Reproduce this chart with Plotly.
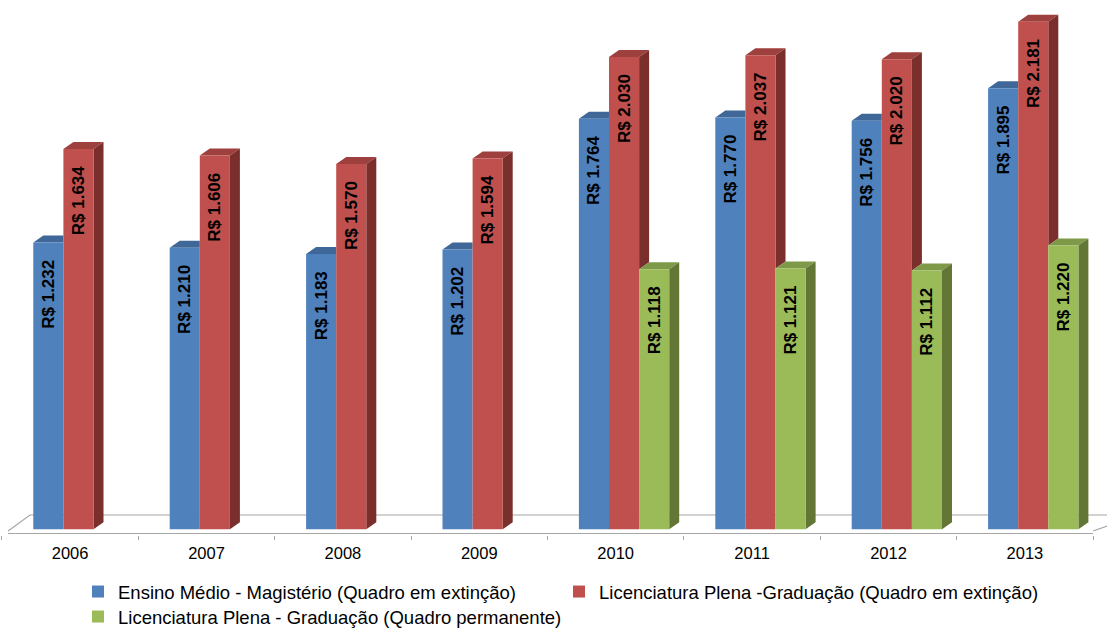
import plotly.graph_objects as go

# ---------------- data ----------------
years = ["2006", "2007", "2008", "2009", "2010", "2011", "2012", "2013"]
ensino_medio = [1232, 1210, 1183, 1202, 1764, 1770, 1756, 1895]
lic_extincao = [1634, 1606, 1570, 1594, 2030, 2037, 2020, 2181]
lic_permanente = [None, None, None, None, 1118, 1121, 1112, 1220]
series_names = [
    "Ensino Médio - Magistério (Quadro em extinção)",
    "Licenciatura Plena -Graduação (Quadro em extinção)",
    "Licenciatura Plena - Graduação (Quadro permanente)",
]

# ---------------- styling / geometry ----------------
FRONT = ["#4F81BD", "#C0504D", "#9BBB59"]
TOP = ["#3F6898", "#9E403E", "#7E9A48"]
SIDE = ["#30507A", "#7A2F2D", "#637636"]
FLOOR = "#A6A6A6"
FONT = "Liberation Sans, Arial, sans-serif"

W, H = 1107, 629
PLOT_BOTTOM = 535.0
CAT_PX = 136.4
X0_PX = 1.9          # pixel of category boundary -0.5
Y0_PX = 529.3        # pixel of value 0
PX_PER_UNIT = 0.2327

x_range = [-0.5 - X0_PX / CAT_PX, -0.5 + (W - X0_PX) / CAT_PX]
y_range = [-(PLOT_BOTTOM - Y0_PX) / PX_PER_UNIT, Y0_PX / PX_PER_UNIT]


def px_x(px):
    return -0.5 + (px - X0_PX) / CAT_PX


def px_y(py):
    return (Y0_PX - py) / PX_PER_UNIT


BAR_W = 30.1 / CAT_PX
FIRST_OFF = (33.3 - (X0_PX + 0.5 * CAT_PX)) / CAT_PX
DX = 10.0 / CAT_PX
DY = 7.0 / PX_PER_UNIT

series = [ensino_medio, lic_extincao, lic_permanente]


def fmt(v):
    return "R$ " + f"{v:,}".replace(",", ".") + "\u00a0\u00a0\u00a0"


fig = go.Figure()

# ---------------- floor ----------------
fx = [px_x(8), px_x(1093), None, px_x(8), px_x(30), x_range[1] + 1, None,
      px_x(1093), px_x(1093 + 17 * 3)]
fy = [px_y(533.5), px_y(533.5), None, px_y(531), px_y(515), px_y(515), None,
      px_y(531), px_y(531 - 6 * 3)]
fig.add_trace(go.Scatter(x=fx, y=fy, mode="lines", line=dict(color=FLOOR, width=1.2),
                         hoverinfo="skip", showlegend=False, cliponaxis=True))

# ---------------- 3D faces (tops and sides) ----------------
tops = {0: ([], []), 1: ([], []), 2: ([], [])}
sides = {0: ([], []), 1: ([], []), 2: ([], [])}
for i in range(len(years)):
    for k, vals in enumerate(series):
        v = vals[i]
        if v is None:
            continue
        nv = series[k + 1][i] if k + 1 < len(series) else None
        x1 = i + FIRST_OFF + k * BAR_W
        x2 = x1 + BAR_W
        tx, ty = tops[k]
        sx, sy = sides[k]
        if nv is not None and nv >= v:
            tx += [x1, x2, x2, x1 + DX, x1, None]
            ty += [v, v, v + DY, v + DY, v, None]
        else:
            tx += [x1, x2, x2 + DX, x1 + DX, x1, None]
            ty += [v, v, v + DY, v + DY, v, None]
        if nv is None:
            sx += [x2, x2, x2 + DX, x2 + DX, x2, None]
            sy += [0, v, v + DY, DY, 0, None]
        elif nv < v:
            sx += [x2, x2 + DX, x2 + DX, x2, x2, None]
            sy += [v, v + DY, nv + DY, nv, v, None]

for k in range(3):
    for coll, cols in ((tops, TOP), (sides, SIDE)):
        xs, ys = coll[k]
        if xs:
            fig.add_trace(go.Scatter(x=xs, y=ys, mode="lines", fill="toself",
                                     fillcolor=cols[k], line=dict(width=0, color=cols[k]),
                                     hoverinfo="skip", showlegend=False))

# ---------------- front faces (bars) ----------------
legend_ids = ["legend", "legend3", "legend2"]
for k, vals in enumerate(series):
    xs = [i for i, v in enumerate(vals) if v is not None]
    ys = [v for v in vals if v is not None]
    fig.add_trace(go.Bar(
        x=xs, y=ys, xaxis="x2", yaxis="y2",
        name=series_names[k],
        offset=FIRST_OFF + k * BAR_W, width=BAR_W,
        marker=dict(color=FRONT[k], line=dict(width=0)),
        text=[fmt(v) for v in ys], textposition="inside", insidetextanchor="end",
        textangle=-90, constraintext="none",
        textfont=dict(family=FONT, size=17, color="black", weight="bold"),
        legend=legend_ids[k],
    ))

legend_font = dict(family=FONT, size=18.5, color="black")
fig.update_layout(
    width=W, height=H,
    margin=dict(l=0, r=0, t=0, b=H - PLOT_BOTTOM, autoexpand=False),
    paper_bgcolor="white", plot_bgcolor="white",
    barmode="overlay",
    showlegend=True,
    xaxis=dict(range=x_range, showgrid=False, zeroline=False, showline=False,
               tickmode="array", tickvals=[i - 0.5 for i in range(len(years) + 1)],
               ticktext=[""] * (len(years) + 1), ticks="outside", ticklen=4,
               tickcolor=FLOOR, tickwidth=1, showticklabels=False),
    yaxis=dict(range=y_range, visible=False),
    xaxis2=dict(range=x_range, overlaying="x", side="bottom", showgrid=False,
                zeroline=False, showline=False, tickmode="array",
                tickvals=list(range(len(years))), ticktext=years, ticks="",
                ticklabelstandoff=6,
                tickfont=dict(family=FONT, size=16.5, color="black")),
    yaxis2=dict(range=y_range, overlaying="y", visible=False),
    legend=dict(orientation="h", x=78 / W, xanchor="left", y=(PLOT_BOTTOM - 592) / PLOT_BOTTOM,
                yanchor="middle", font=legend_font, bgcolor="rgba(0,0,0,0)"),
    legend3=dict(orientation="h", x=559 / W, xanchor="left", y=(PLOT_BOTTOM - 592) / PLOT_BOTTOM,
                 yanchor="middle", font=legend_font, bgcolor="rgba(0,0,0,0)"),
    legend2=dict(orientation="h", x=78 / W, xanchor="left", y=(PLOT_BOTTOM - 617) / PLOT_BOTTOM,
                 yanchor="middle", font=legend_font, bgcolor="rgba(0,0,0,0)"),
)

fig.write_html("out.html")
